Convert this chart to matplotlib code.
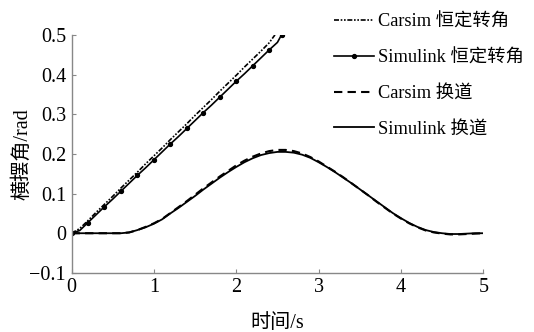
import matplotlib
matplotlib.use("Agg")
import matplotlib.pyplot as plt
from matplotlib.ticker import FuncFormatter

plt.rcParams['font.family'] = ['Liberation Serif', 'Noto Sans CJK SC']
plt.rcParams['axes.unicode_minus'] = True

# constant steering (0.1 s grid)
t_const_carsim = [0.0, 0.1, 0.2, 0.3, 0.4, 0.5, 0.6, 0.7, 0.8, 0.9, 1.0, 1.1, 1.2, 1.3,
                  1.4, 1.5, 1.6, 1.7, 1.8, 1.9, 2.0, 2.1, 2.2, 2.3, 2.4, 2.47]
y_const_carsim = [0.0, 0.012, 0.032, 0.053, 0.073, 0.093, 0.114, 0.134, 0.154, 0.175, 0.195,
                  0.215, 0.236, 0.256, 0.276, 0.297, 0.317, 0.337, 0.358, 0.378, 0.398,
                  0.419, 0.439, 0.459, 0.480, 0.500]
t_const_sim = [0.0, 0.1, 0.2, 0.3, 0.4, 0.5, 0.6, 0.7, 0.8, 0.9, 1.0, 1.1, 1.2, 1.3,
               1.4, 1.5, 1.6, 1.7, 1.8, 1.9, 2.0, 2.1, 2.2, 2.3, 2.4, 2.5, 2.55]
y_const_sim = [0.0, 0.007, 0.027, 0.047, 0.067, 0.086, 0.106, 0.126, 0.146, 0.165, 0.185,
               0.205, 0.225, 0.244, 0.264, 0.284, 0.304, 0.323, 0.343, 0.363, 0.383,
               0.402, 0.422, 0.442, 0.462, 0.481, 0.500]

# lane change
t_lane = [0.0, 0.1, 0.2, 0.3, 0.4, 0.5, 0.6, 0.7, 0.8, 0.9, 1.0, 1.1, 1.2, 1.3, 1.4, 1.5,
          1.6, 1.7, 1.8, 1.9, 2.0, 2.1, 2.2, 2.3, 2.4, 2.5, 2.6, 2.7, 2.8, 2.9, 3.0,
          3.1, 3.2, 3.3, 3.4, 3.5, 3.6, 3.7, 3.8, 3.9, 4.0, 4.1, 4.2, 4.3, 4.4, 4.5,
          4.6, 4.7, 4.8, 4.9, 5.0]
y_lane_sim = [0.0, 0.0, 0.0, 0.0, 0.0, 0.0, 0.0, 0.002, 0.008, 0.015, 0.024, 0.035, 0.050,
              0.064, 0.079, 0.094, 0.110, 0.125, 0.140, 0.154, 0.167, 0.179, 0.189, 0.197,
              0.202, 0.205, 0.205, 0.203, 0.198, 0.190, 0.179, 0.167, 0.154, 0.140, 0.126,
              0.111, 0.096, 0.081, 0.066, 0.051, 0.038, 0.026, 0.016, 0.008, 0.003, 0.0,
              -0.002, -0.002, -0.001, 0.0, 0.0]
y_lane_carsim = [0.0, 0.0, 0.0, 0.0, 0.0, 0.0, 0.0, 0.002, 0.008, 0.016, 0.025, 0.036, 0.051,
                 0.066, 0.081, 0.097, 0.113, 0.128, 0.143, 0.157, 0.171, 0.183, 0.193, 0.201,
                 0.207, 0.210, 0.210, 0.207, 0.201, 0.192, 0.181, 0.168, 0.155, 0.141, 0.126,
                 0.111, 0.096, 0.080, 0.065, 0.050, 0.037, 0.025, 0.015, 0.007, 0.002, -0.001,
                 -0.003, -0.003, -0.002, -0.001, 0.0]

labels = ['Carsim 恒定转角', 'Simulink 恒定转角', 'Carsim 换道', 'Simulink 换道']

FS = 14.5
fig = plt.figure(figsize=(5.34, 3.32), dpi=100)
ax = fig.add_axes([0.134, 0.178, 0.771, 0.717])

l1, = ax.plot(t_const_carsim, y_const_carsim, color='black', lw=1.2,
              linestyle=(0, (3, 1, 1, 1, 1, 1)))
l2, = ax.plot(t_const_sim, y_const_sim, color='black', lw=1.2, marker='o', markersize=2.8,
              markevery=2)
l3, = ax.plot(t_lane, y_lane_carsim, color='black', lw=1.5, linestyle=(0, (4, 2.5)))
l4, = ax.plot(t_lane, y_lane_sim, color='black', lw=1.3)

ax.set_xlim(0, 5)
ax.set_ylim(-0.1, 0.5)
ax.set_xticks([0, 1, 2, 3, 4, 5])
ax.set_yticks([-0.1, 0, 0.1, 0.2, 0.3, 0.4, 0.5])

def yfmt(v, pos):
    if abs(v) < 1e-9:
        return '0'
    s = f'{v:.1f}'
    return s.replace('-', '\u2212')

ax.yaxis.set_major_formatter(FuncFormatter(yfmt))
for s in ['top', 'right']:
    ax.spines[s].set_visible(False)
for s in ['left', 'bottom']:
    ax.spines[s].set_color('#888888')
    ax.spines[s].set_linewidth(1.0)
ax.tick_params(direction='in', length=3, color='#888888', labelsize=FS, pad=4)

ax.set_xlabel('时间/s', fontsize=FS, labelpad=12)
ax.set_ylabel('横摆角/rad', fontsize=FS, labelpad=-2)

fig.legend([l1, l2, l3, l4], labels, loc='upper left', bbox_to_anchor=(0.612, 0.982),
           frameon=False, fontsize=13.2, handlelength=2.2, handletextpad=0.2,
           labelspacing=1.02, borderaxespad=0)

fig.savefig('out.png', dpi=100)
